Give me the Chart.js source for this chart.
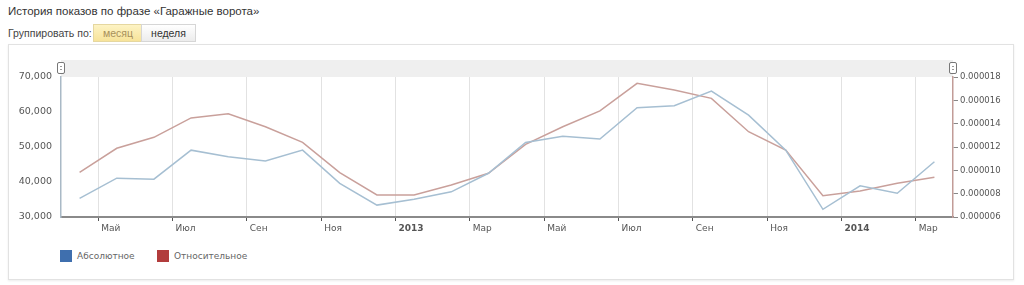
<!DOCTYPE html>
<html lang="ru">
<head>
<meta charset="utf-8">
<title>История показов</title>
<script src="https://cdn.jsdelivr.net/npm/chart.js@4.4.1/dist/chart.umd.min.js"></script>
<style>
    body { margin: 0; background: #fff; font-family: "Liberation Sans", Arial, sans-serif; color: #333; width: 1024px; height: 285px; position: relative; overflow: hidden; }
    .title { position: absolute; left: 8px; top: 5px; font-size: 11.5px; color: #333; }
    .group { position: absolute; left: 8px; top: 26px; font-size: 10.5px; color: #444; line-height: 15px; }
    .btn { position: absolute; top: 24px; height: 16px; line-height: 16px; font-size: 10.5px; text-align: center; border: 1px solid #d6d6d6; }
    .btn.on { left: 93px; width: 48px; background: linear-gradient(#fdf3c4, #f7e39a); color: #a8905a; border-color: #e5d7a0; }
    .btn.off { left: 141px; width: 53px; background: linear-gradient(#ffffff, #ececec); color: #333; }
    .panel { position: absolute; left: 8px; top: 44px; width: 1004px; height: 234px; border: 1px solid #e2e2e2; box-shadow: 0 1px 2px rgba(0,0,0,0.08); }
    #chart { position: absolute; left: 9px; top: 45px; }
    .legend { position: absolute; top: 250px; font-size: 9px; color: #666; font-family: "DejaVu Sans", Verdana, sans-serif; line-height: 12px; }
    .legend i { display: inline-block; width: 12px; height: 12px; vertical-align: top; margin-right: 5px; }
</style>
</head>
<body>
<div class="title">История показов по фразе «Гаражные ворота»</div>
<div class="group">Группировать по:</div>
<div class="btn on">месяц</div>
<div class="btn off">неделя</div>
<div class="panel"></div>
<canvas id="chart" width="1003" height="192"></canvas>
<div class="legend" style="left:60px"><i style="background:#3f6fae"></i>Абсолютное</div>
<div class="legend" style="left:157px"><i style="background:#b23c3c"></i>Относительное</div>

<script>
// monthly data, Apr 2012 - Mar 2014
const months = ['2012-04', '2012-05', '2012-06', '2012-07', '2012-08', '2012-09', '2012-10', '2012-11', '2012-12',
    '2013-01', '2013-02', '2013-03', '2013-04', '2013-05', '2013-06', '2013-07', '2013-08', '2013-09', '2013-10', '2013-11', '2013-12',
    '2014-01', '2014-02', '2014-03'];

const absolute = [35300, 41100, 40800, 49100, 47200, 46000, 49100, 39600, 33400,
    35100, 37200, 42500, 51300, 53100, 52300, 61200, 61800, 66000, 59100, 49100, 32200,
    38900, 36800, 45800];

const relative = [9.83e-6, 11.89e-6, 12.83e-6, 14.49e-6, 14.85e-6, 13.74e-6, 12.4e-6, 9.8e-6, 7.89e-6,
    7.89e-6, 8.74e-6, 9.75e-6, 12.23e-6, 13.74e-6, 15.09e-6, 17.46e-6, 16.89e-6, 16.17e-6, 13.31e-6, 11.74e-6, 7.83e-6,
    8.23e-6, 8.89e-6, 9.4e-6];

// x axis: months counted from 1 Apr 2012
const tickPositions = [1, 3, 5, 7, 9, 11, 13, 15, 17, 19, 21, 23];
const tickLabels = ['Май', 'Июл', 'Сен', 'Ноя', '2013', 'Мар', 'Май', 'Июл', 'Сен', 'Ноя', '2014', 'Мар'];

const toPoints = values => values.map((v, i) => ({ x: i + 0.5, y: v }));

const topBand = {
    id: 'topBand',
    beforeDraw(chart) {
        const { ctx, chartArea } = chart;
        ctx.save();
        ctx.fillStyle = '#efefef';
        ctx.fillRect(chartArea.left, chartArea.top - 17, chartArea.right - chartArea.left, 17);
        ctx.restore();
    },
    afterDraw(chart) {
        const { ctx, chartArea } = chart;
        [chartArea.left, chartArea.right].forEach(x => {
            ctx.save();
            ctx.fillStyle = '#fff';
            ctx.strokeStyle = '#777';
            ctx.lineWidth = 1;
            ctx.beginPath();
            ctx.roundRect(Math.round(x) - 3.5, chartArea.top - 14.5, 7, 11, 1.5);
            ctx.fill();
            ctx.stroke();
            ctx.strokeStyle = '#999';
            ctx.beginPath();
            ctx.moveTo(Math.round(x) - 1, chartArea.top - 10.5);
            ctx.lineTo(Math.round(x) + 1, chartArea.top - 10.5);
            ctx.moveTo(Math.round(x) - 1, chartArea.top - 7.5);
            ctx.lineTo(Math.round(x) + 1, chartArea.top - 7.5);
            ctx.stroke();
            ctx.restore();
        });
    }
};

new Chart(document.getElementById('chart'), {
    type: 'line',
    data: {
        datasets: [{
            label: 'Абсолютное',
            data: toPoints(absolute),
            yAxisID: 'y',
            borderColor: '#a6bfd2',
            backgroundColor: '#3f6fae',
            borderWidth: 1.5,
            pointRadius: 0,
            tension: 0
        }, {
            label: 'Относительное',
            data: toPoints(relative),
            yAxisID: 'y1',
            borderColor: '#c9a09b',
            backgroundColor: '#b23c3c',
            borderWidth: 1.5,
            pointRadius: 0,
            tension: 0
        }]
    },
    options: {
        responsive: false,
        animation: false,
        layout: { padding: { top: 32, left: 0, right: 0, bottom: 0 } },
        plugins: {
            legend: { display: false },
            tooltip: { enabled: false }
        },
        scales: {
            x: {
                type: 'linear',
                min: 0,
                max: 24,
                afterBuildTicks: scale => {
                    scale.ticks = tickPositions.map(v => ({ value: v }));
                },
                afterFit: scale => { scale.height = 20; },
                grid: {
                    color: '#e2e2e2',
                    tickColor: '#555',
                    tickLength: 4
                },
                border: { color: '#8a8a8a', width: 2 },
                ticks: {
                    align: 'start',
                    labelOffset: 3,
                    padding: 2,
                    maxRotation: 0,
                    autoSkip: false,
                    color: '#555',
                    font: ctx => ({
                        family: '"DejaVu Sans", Verdana, sans-serif',
                        size: 9,
                        weight: /^\d+$/.test(tickLabels[ctx.index]) ? 'bold' : 'normal'
                    }),
                    callback: (value, index) => tickLabels[index]
                }
            },
            y: {
                position: 'left',
                min: 30000,
                max: 70000,
                afterFit: scale => { scale.width = 52; },
                grid: { display: false, drawTicks: false },
                border: { color: '#a9b9c6', width: 1.5 },
                ticks: {
                    stepSize: 10000,
                    padding: 9,
                    color: '#555',
                    font: { family: '"DejaVu Sans", Verdana, sans-serif', size: 9.5 },
                    callback: v => v.toLocaleString('en-US')
                }
            },
            y1: {
                position: 'right',
                min: 6e-6,
                max: 18e-6,
                afterFit: scale => { scale.width = 59; },
                grid: { drawOnChartArea: false, color: '#888', tickLength: 5 },
                border: { color: '#c29c97', width: 1.5 },
                ticks: {
                    stepSize: 2e-6,
                    padding: 2,
                    color: '#555',
                    font: { family: '"DejaVu Sans", Verdana, sans-serif', size: 8.5 },
                    callback: v => v.toFixed(6)
                }
            }
        }
    },
    plugins: [topBand]
});
</script>
</body>
</html>
